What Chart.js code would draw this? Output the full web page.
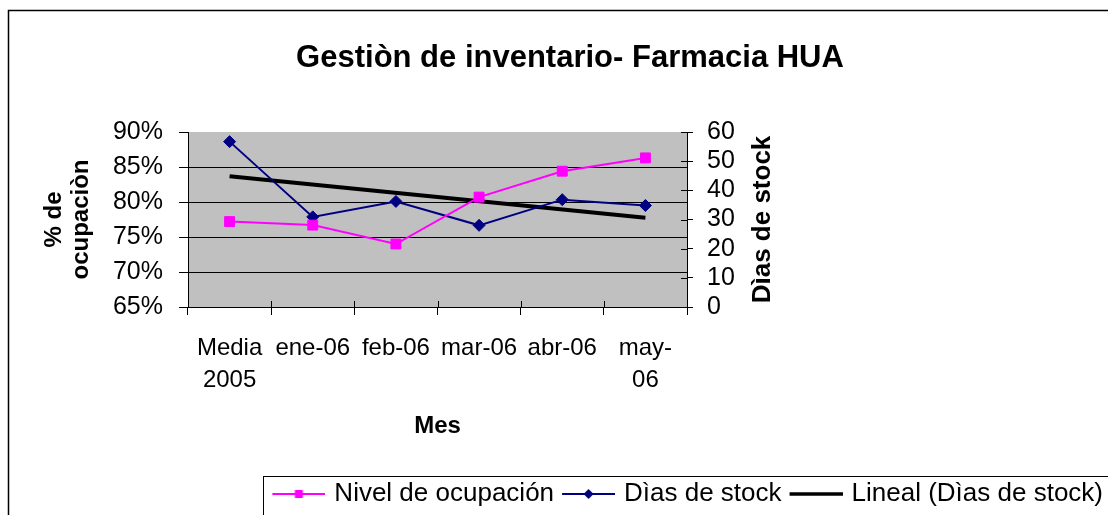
<!DOCTYPE html>
<html>
<head>
<meta charset="utf-8">
<script src="https://cdn.jsdelivr.net/npm/chart.js@4.4.0/dist/chart.umd.min.js"></script>
<style>
html,body{margin:0;padding:0;background:#fff;}
canvas{display:block;}
</style>
</head>
<body>
<canvas id="c" width="1108" height="515"></canvas>
<script>
// ---- data ----
const categories = [["Media", "2005"], "ene-06", "feb-06", "mar-06", "abr-06", ["may-", "06"]];
const nivelOcupacion = [77.2, 76.7, 74.0, 80.7, 84.4, 86.3];   // % (left axis)
const diasStock = [56.7, 30.9, 36.2, 28.0, 36.8, 34.8];         // days (right axis)
const linealDiasStock = [44.8, null, null, null, null, 30.6];    // trend line end points
const leftTicks = [65, 70, 75, 80, 85, 90];
const rightTicks = [0, 10, 20, 30, 40, 50, 60];
const seriesNames = ["Nivel de ocupación", "Dìas de stock", "Lineal (Dìas de stock)"];

const FONT = "'Liberation Sans', Arial, Helvetica, sans-serif";
Chart.defaults.font.family = FONT;
Chart.defaults.color = '#000';

function makeSymbol(color, lineW, marker) {
  const c = document.createElement('canvas');
  c.width = 60; c.height = 16;
  const g = c.getContext('2d');
  g.strokeStyle = color; g.lineWidth = lineW;
  g.beginPath(); g.moveTo(7, 8); g.lineTo(60, 8); g.stroke();
  g.fillStyle = color;
  const cx = 33.5, cy = 8;
  if (marker === 'square') g.fillRect(cx - 4, cy - 4, 8, 8);
  if (marker === 'diamond') {
    g.beginPath(); g.moveTo(cx - 5, cy); g.lineTo(cx, cy - 5); g.lineTo(cx + 5, cy); g.lineTo(cx, cy + 5); g.closePath(); g.fill();
  }
  return c;
}
const symbols = [makeSymbol('#FF00FF', 2, 'square'), makeSymbol('#000080', 2, 'diamond'), makeSymbol('#000000', 3.5, null)];

const decor = {
  id: 'decor',
  beforeDraw(chart) {
    const {ctx, chartArea: a} = chart;
    ctx.save();
    ctx.fillStyle = '#fff';
    ctx.fillRect(0, 0, chart.width, chart.height);
    ctx.fillStyle = '#C0C0C0';
    ctx.fillRect(a.left, a.top, a.right - a.left, a.bottom - a.top);
    ctx.strokeStyle = '#000'; ctx.lineWidth = 1.5;
    ctx.beginPath(); ctx.moveTo(8.5, chart.height + 2); ctx.lineTo(8.5, 10.5); ctx.lineTo(chart.width + 2, 10.5); ctx.stroke();
    ctx.restore();
  },
  afterDraw(chart) {
    const {ctx} = chart;
    const x = chart.scales.x, yR = chart.scales.y1;
    ctx.save();
    ctx.strokeStyle = '#000'; ctx.lineWidth = 1;
    // inner parts of crossing tick marks
    ctx.beginPath();
    for (let i = 0; i <= categories.length; i++) {
      const px = Math.round(x.getPixelForValue(i - 0.5)) + 0.5;
      ctx.moveTo(px, x.top - 6); ctx.lineTo(px, x.top);
    }
    rightTicks.forEach(v => {
      const py = Math.round(yR.getPixelForValue(v)) + 0.5;
      ctx.moveTo(yR.left - 6, py); ctx.lineTo(yR.left, py);
    });
    ctx.stroke();
    // right axis title (reads bottom to top)
    ctx.fillStyle = '#000';
    ctx.font = 'bold 26px ' + FONT;
    ctx.textAlign = 'center'; ctx.textBaseline = 'middle';
    ctx.translate(yR.left + 76, (yR.top + yR.bottom) / 2);
    ctx.rotate(-Math.PI / 2);
    ctx.fillText('Dìas de stock', 0, 0);
    ctx.restore();
    // legend frame
    const lg = chart.legend;
    if (lg && lg.legendHitBoxes && lg.legendHitBoxes.length) {
      const hb = lg.legendHitBoxes[0];
      ctx.save();
      ctx.strokeStyle = '#000'; ctx.lineWidth = 1;
      ctx.strokeRect(Math.round(hb.left - 6) + 0.5, Math.round(lg.top) + 0.5, chart.width + 20, 100);
      ctx.restore();
    }
  }
};

new Chart(document.getElementById('c'), {
  type: 'line',
  data: {
    labels: categories,
    datasets: [
      {
        label: seriesNames[0], data: nivelOcupacion, yAxisID: 'y',
        borderColor: '#FF00FF', backgroundColor: '#FF00FF', borderWidth: 2,
        pointStyle: 'rect', pointRadius: 7, pointBorderWidth: 1, tension: 0, order: 1
      },
      {
        label: seriesNames[1], data: diasStock, yAxisID: 'y1',
        borderColor: '#000080', backgroundColor: '#000080', borderWidth: 2,
        pointStyle: 'rectRot', pointRadius: 6, pointBorderWidth: 1, tension: 0, order: 2
      },
      {
        label: seriesNames[2], data: linealDiasStock, yAxisID: 'y1',
        borderColor: '#000000', backgroundColor: '#000000', borderWidth: 4,
        pointRadius: 0, spanGaps: true, tension: 0, order: 3
      }
    ]
  },
  options: {
    responsive: false,
    animation: false,
    devicePixelRatio: 1,
    layout: { padding: { left: 32, right: 0, top: 0, bottom: -2 } },
    plugins: {
      tooltip: { enabled: false },
      title: {
        display: true,
        text: 'Gestiòn de inventario- Farmacia HUA',
        color: '#000',
        font: { size: 31, weight: 'bold', lineHeight: 1.2 },
        padding: { top: 40, bottom: 54.8 }
      },
      legend: {
        display: true,
        position: 'bottom',
        align: 'end',
        labels: {
          color: '#000',
          font: { size: 26 },
          padding: 5,
          usePointStyle: true,
          pointStyleWidth: 52,
          generateLabels: (chart) => chart.data.datasets.map((ds, i) => ({
            text: ds.label, pointStyle: symbols[i], fillStyle: ds.borderColor,
            strokeStyle: ds.borderColor, lineWidth: 0, hidden: false, datasetIndex: i, fontColor: '#000'
          }))
        }
      }
    },
    scales: {
      x: {
        type: 'category',
        offset: true,
        afterFit(s) { s.height = 169; },
        grid: { display: true, offset: true, drawOnChartArea: false, drawTicks: true, tickLength: 8, color: '#000', tickColor: '#000', lineWidth: 1 },
        border: { display: true, color: '#000', width: 1 },
        ticks: { autoSkip: false, maxRotation: 0, minRotation: 0, padding: 17, font: { size: 24, lineHeight: 1.35 } },
        title: { display: true, text: 'Mes', font: { size: 24, weight: 'bold', lineHeight: 1.2 }, padding: { top: 0, bottom: 35.6 } }
      },
      y: {
        position: 'left',
        min: 65, max: 90,
        afterFit(s) { s.width = 156; },
        afterBuildTicks(s) { s.ticks = leftTicks.map(v => ({ value: v })); },
        grid: {
          drawOnChartArea: true, drawTicks: true, tickLength: 9,
          color: (c) => (c.tick && c.tick.value === 90) ? 'rgba(0,0,0,0)' : '#000',
          tickColor: '#000', lineWidth: 1
        },
        border: { display: true, color: '#000', width: 1 },
        ticks: { autoSkip: false, padding: 16, font: { size: 25 }, callback: (v) => v + '%' },
        title: { display: true, text: ['% de', 'ocupaciòn'], font: { size: 24, weight: 'bold', lineHeight: 1.1 }, padding: { top: 9.5, bottom: 0 } }
      },
      y1: {
        position: 'right',
        min: 0, max: 60,
        afterFit(s) { s.width = 421; },
        afterBuildTicks(s) { s.ticks = rightTicks.map(v => ({ value: v })); },
        grid: { drawOnChartArea: false, drawTicks: true, tickLength: 6, color: '#000', tickColor: '#000', lineWidth: 1 },
        border: { display: true, color: '#000', width: 1 },
        ticks: { autoSkip: false, padding: 14, font: { size: 25 } },
        title: { display: false }
      }
    }
  },
  plugins: [decor]
});
</script>
</body>
</html>
